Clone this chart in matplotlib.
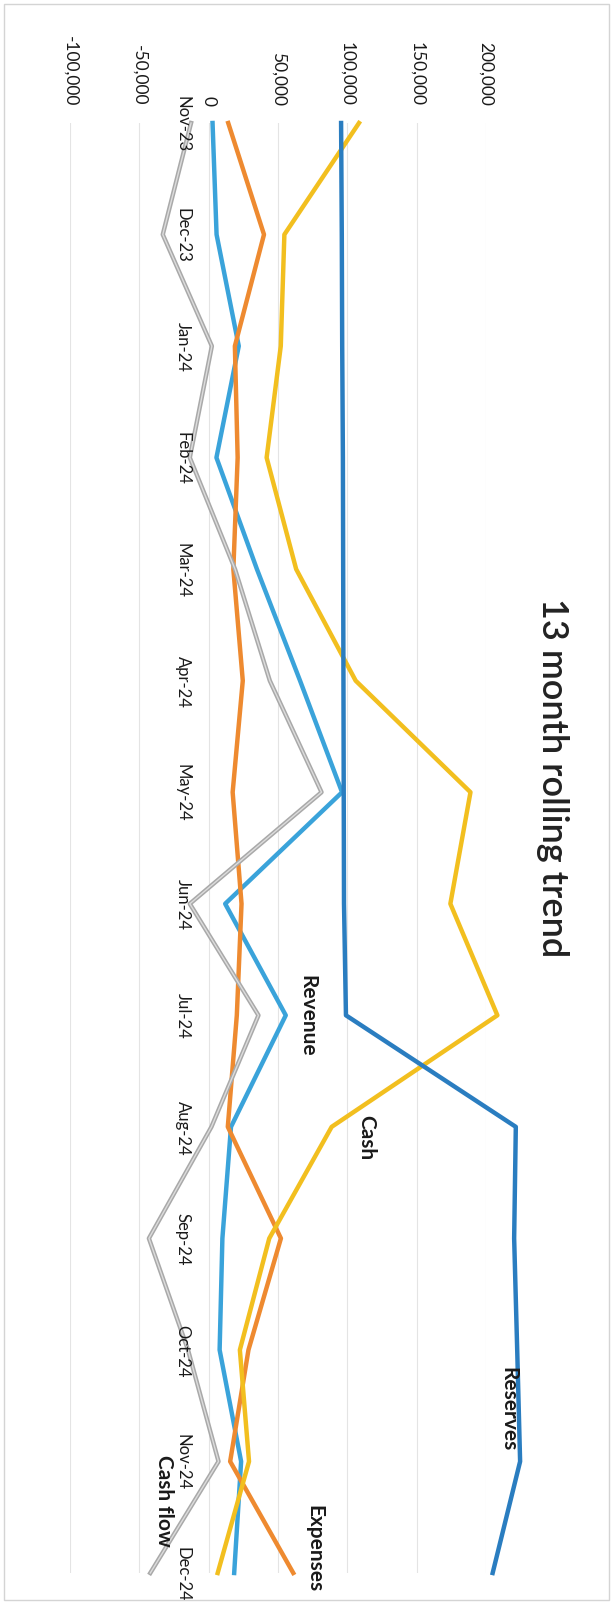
import matplotlib
matplotlib.use("Agg")
import matplotlib.pyplot as plt
from matplotlib.patches import Rectangle

plt.rcParams['font.family'] = ['Lato', 'DejaVu Sans']

months = ['Nov-23', 'Dec-23', 'Jan-24', 'Feb-24', 'Mar-24', 'Apr-24', 'May-24',
          'Jun-24', 'Jul-24', 'Aug-24', 'Sep-24', 'Oct-24', 'Nov-24', 'Dec-24']
revenue = [2800, 5700, 21700, 5600, 34800, 65900, 96200, 11900, 55600, 16100, 9900, 7900, 23400, 18400]
expenses = [14100, 39900, 18900, 20900, 17800, 24600, 17300, 23700, 20300, 13800, 52100, 28700, 15500, 61000]
cash_flow = [-12700, -33100, 2300, -13600, 19000, 44100, 81400, -13600, 35900, 2000, -43100, -14900, 7100, -42100]
cash = [108400, 54600, 52000, 41800, 63100, 106000, 188800, 174300, 208200, 88700, 43700, 22500, 29100, 6500]
reserves = [95500, 96000, 96300, 96800, 97000, 97200, 97400, 97600, 99000, 221500, 220300, 222500, 224600, 204800]

ticks = [-100000, -50000, 0, 50000, 100000, 150000, 200000]
tick_labels = ['-100,000', '-50,000', '0', '50,000', '100,000', '150,000', '200,000']

W, H = 613, 1606
fig = plt.figure(figsize=(W / 100, H / 100), dpi=100)
fig.patches.append(Rectangle((4 / W, 5 / H), 605 / W, 1596 / H, transform=fig.transFigure,
                             fill=False, edgecolor='#d4d4d4', lw=1))

ax = fig.add_axes([70 / W, 1 - 1574 / H, 416 / W, 1450 / H])
pos = list(range(len(months)))

c_rev = '#3aa3da'
c_exp = '#ee8a30'
c_cf = '#a9a9a9'
c_cash = '#f2bf1f'
c_res = '#2a7dc0'

ax.plot(revenue, pos, color=c_rev, lw=3.2, clip_on=False)
ax.plot(expenses, pos, color=c_exp, lw=3.2, clip_on=False)
ax.plot(cash_flow, pos, color=c_cf, lw=3.2, clip_on=False)
ax.plot(cash_flow, pos, color='#dcdcdc', lw=1.0, clip_on=False)
ax.plot(cash, pos, color=c_cash, lw=3.2, clip_on=False)
ax.plot(reserves, pos, color=c_res, lw=3.2, clip_on=False)

ax.set_xlim(-100000, 200000)
ax.set_ylim(len(months) - 1, 0)
ax.set_xticks(ticks)
ax.set_xticklabels(tick_labels, rotation=-90)
ax.xaxis.tick_top()
ax.tick_params(axis='x', length=0, pad=13, labelsize=12.5, labelcolor='#1a1a1a')
ax.set_yticks([])
for s in ax.spines.values():
    s.set_visible(False)
ax.grid(axis='x', color='#e4e4e4', lw=0.8)
ax.set_axisbelow(True)

# category labels beside the zero line
for i, m in enumerate(months):
    ax.text(-13000, i, m, rotation=-90, ha='right', va='center', fontsize=12, color='#1a1a1a')

# series name labels
lbl = dict(textcoords='offset pixels', rotation=-90, ha='center', va='center',
           fontsize=15, fontweight='bold', color='#1a1a1a', annotation_clip=False)
ax.annotate('Revenue', xy=(revenue[8], 8), xytext=(22, 0), **lbl)
ax.annotate('Cash', xy=(cash[9], 9), xytext=(35, -10), **lbl)
ax.annotate('Reserves', xy=(reserves[12], 12), xytext=(-12, 53), **lbl)
ax.annotate('Expenses', xy=(expenses[13], 13), xytext=(21, 25), **lbl)
ax.annotate('Cash flow', xy=(cash_flow[13], 13), xytext=(14, 73), **lbl)

fig.text(553 / W, 1 - 778 / H, '13 month rolling trend', rotation=-90, ha='center', va='center',
         fontsize=26, fontweight='semibold', color='#222222')

fig.savefig('out.png', dpi=100)
